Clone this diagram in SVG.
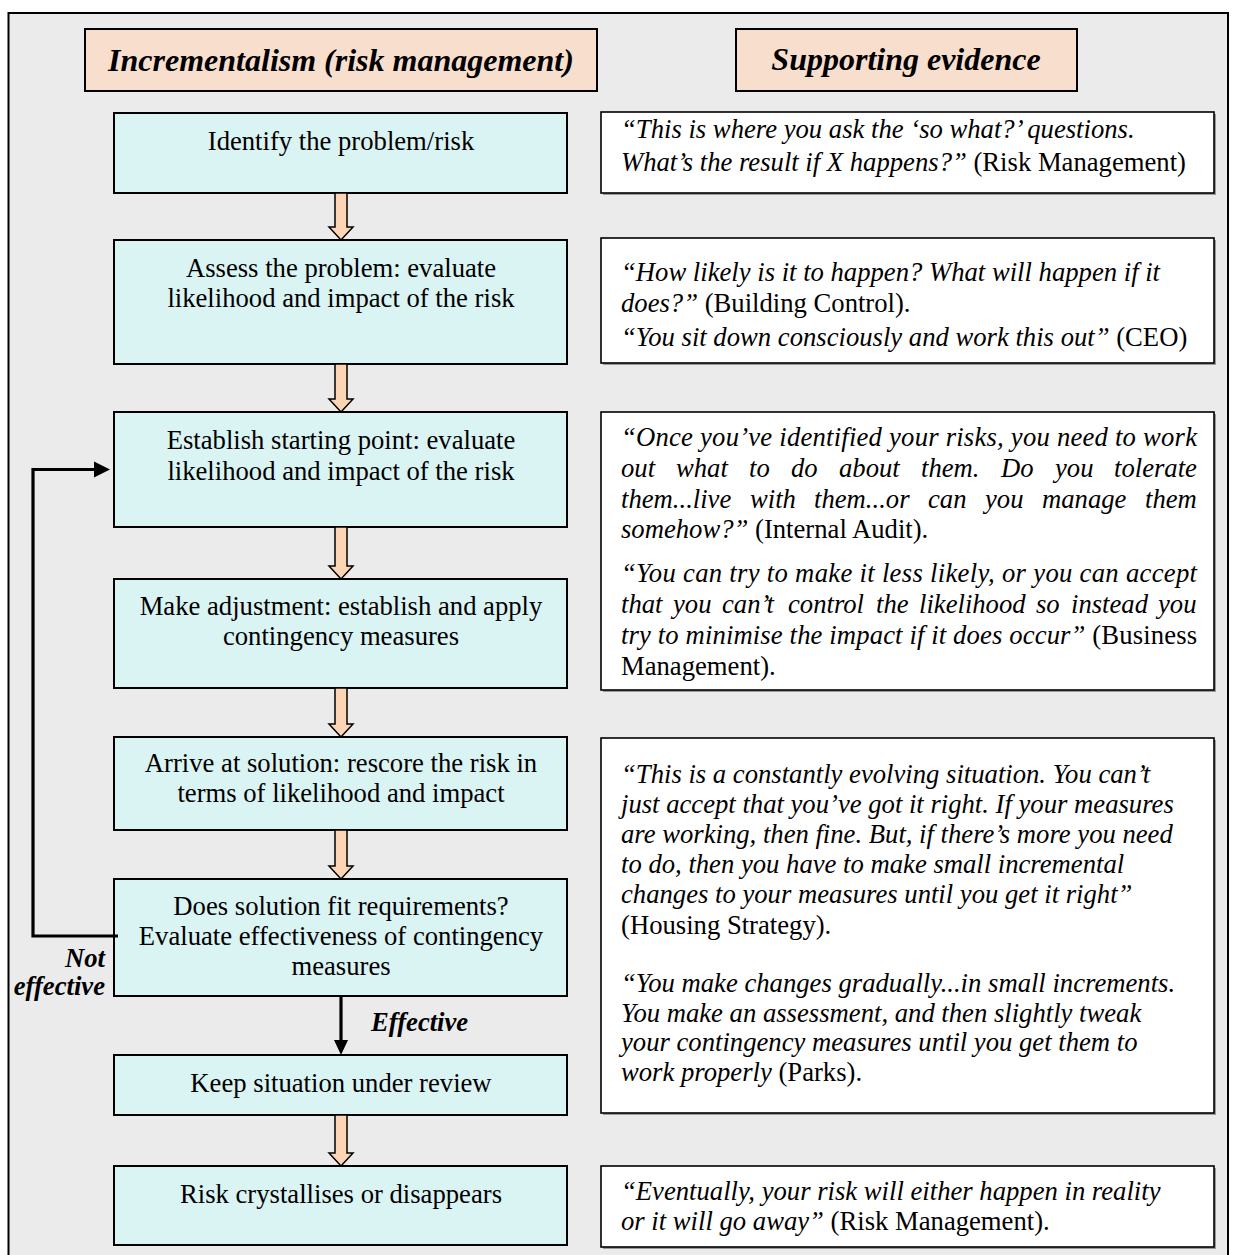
<svg xmlns="http://www.w3.org/2000/svg" width="1233" height="1255" viewBox="0 0 1233 1255">
  <style>
    text { font-family: "Liberation Serif", "Times New Roman", serif; font-size: 26.67px; fill: #000; }
    .frame { fill: #ebebeb; stroke: #000; stroke-width: 2; }
    .hdr { fill: #f8dfcd; stroke: #000; stroke-width: 2; }
    .hdr-t { font-size: 32px; font-weight: bold; font-style: italic; text-anchor: middle; }
    .step { fill: #daf3f3; stroke: #000; stroke-width: 2; }
    .step-t { text-anchor: middle; }
    .quote { fill: #fff; stroke: #000; stroke-width: 1.6; }
    .shadow { fill: #9a9a9a; }
    .i { font-style: italic; }
    .lbl { font-weight: bold; font-style: italic; }
    .flow { fill: #fcd5b4; stroke: #000; stroke-width: 1.5; stroke-linejoin: miter; }
    .link { fill: none; stroke: #000; stroke-width: 3.2; }
    .head { fill: #000; }
  </style>

  <!-- outer panel -->
  <rect class="frame" x="8.5" y="13" width="1219.5" height="1262"/>

  <!-- column headings -->
  <g id="heading-incrementalism">
    <rect class="hdr" x="85" y="29" width="512" height="62"/>
    <text class="hdr-t" x="341" y="71">Incrementalism (risk management)</text>
  </g>
  <g id="heading-evidence">
    <rect class="hdr" x="736" y="29" width="341" height="62"/>
    <text class="hdr-t" x="906" y="70">Supporting evidence</text>
  </g>

  <!-- process steps -->
  <g id="step-identify">
    <rect class="step" x="114" y="113" width="453" height="80"/>
    <text class="step-t" x="341" y="150">Identify the problem/risk</text>
  </g>
  <g id="step-assess">
    <rect class="step" x="114" y="240" width="453" height="124"/>
    <text class="step-t" x="341" y="277">Assess the problem: evaluate</text>
    <text class="step-t" x="341" y="307">likelihood and impact of the risk</text>
  </g>
  <g id="step-establish">
    <rect class="step" x="114" y="412" width="453" height="115"/>
    <text class="step-t" x="341" y="449">Establish starting point: evaluate</text>
    <text class="step-t" x="341" y="480">likelihood and impact of the risk</text>
  </g>
  <g id="step-adjust">
    <rect class="step" x="114" y="579" width="453" height="109"/>
    <text class="step-t" x="341" y="615">Make adjustment: establish and apply</text>
    <text class="step-t" x="341" y="645">contingency measures</text>
  </g>
  <g id="step-solution">
    <rect class="step" x="114" y="737" width="453" height="93"/>
    <text class="step-t" x="341" y="772">Arrive at solution: rescore the risk in</text>
    <text class="step-t" x="341" y="802">terms of likelihood and impact</text>
  </g>
  <g id="step-evaluate">
    <rect class="step" x="114" y="879" width="453" height="117"/>
    <text class="step-t" x="341" y="915">Does solution fit requirements?</text>
    <text class="step-t" x="341" y="945">Evaluate effectiveness of contingency</text>
    <text class="step-t" x="341" y="975">measures</text>
  </g>
  <g id="step-review">
    <rect class="step" x="114" y="1055" width="453" height="60"/>
    <text class="step-t" x="341" y="1092">Keep situation under review</text>
  </g>
  <g id="step-outcome">
    <rect class="step" x="114" y="1166" width="453" height="79"/>
    <text class="step-t" x="341" y="1203">Risk crystallises or disappears</text>
  </g>

  <!-- evidence quotes -->
  <g id="quote-identify">
    <rect class="shadow" x="603" y="114" width="613" height="81"/>
    <rect class="quote" x="601" y="112" width="613" height="81"/>
    <text x="621" y="138" class="i">“This is where you ask the ‘so what?’ questions.</text>
    <text x="621" y="171"><tspan class="i">What’s the result if X happens?”</tspan> (Risk Management)</text>
  </g>
  <g id="quote-assess">
    <rect class="shadow" x="603" y="240" width="613" height="125"/>
    <rect class="quote" x="601" y="238" width="613" height="125"/>
    <text x="621" y="281" class="i">“How likely is it to happen? What will happen if it</text>
    <text x="621" y="312"><tspan class="i">does?”</tspan> (Building Control).</text>
    <text x="621" y="346"><tspan class="i">“You sit down consciously and work this out”</tspan> (CEO)</text>
  </g>
  <g id="quote-establish">
    <rect class="shadow" x="603" y="414" width="613" height="278"/>
    <rect class="quote" x="601" y="412" width="613" height="278"/>
    <text x="621" y="446" class="i" textLength="576" lengthAdjust="spacing">“Once you’ve identified your risks, you need to work</text>
    <text y="477" class="i"><tspan x="621">out</tspan><tspan x="676">what</tspan><tspan x="749">to</tspan><tspan x="791">do</tspan><tspan x="839">about</tspan><tspan x="921">them.</tspan><tspan x="1001">Do</tspan><tspan x="1055">you</tspan><tspan x="1114">tolerate</tspan></text>
    <text y="508" class="i"><tspan x="621">them...live</tspan><tspan x="750">with</tspan><tspan x="814">them...or</tspan><tspan x="928">can</tspan><tspan x="985">you</tspan><tspan x="1042">manage</tspan><tspan x="1145">them</tspan></text>
    <text x="621" y="538"><tspan class="i">somehow?”</tspan> (Internal Audit).</text>
    <text x="621" y="582" class="i" textLength="576" lengthAdjust="spacing">“You can try to make it less likely, or you can accept</text>
    <text y="613" class="i"><tspan x="621">that</tspan><tspan x="673">you</tspan><tspan x="722">can’t</tspan><tspan x="788">control</tspan><tspan x="876">the</tspan><tspan x="919">likelihood</tspan><tspan x="1036">so</tspan><tspan x="1071">instead</tspan><tspan x="1158">you</tspan></text>
    <text x="621" y="644" textLength="576" lengthAdjust="spacing"><tspan class="i">try to minimise the impact if it does occur”</tspan> (Business</text>
    <text x="621" y="675">Management).</text>
  </g>
  <g id="quote-review">
    <rect class="shadow" x="603" y="740" width="613" height="375"/>
    <rect class="quote" x="601" y="738" width="613" height="375"/>
    <text x="621" y="783" class="i">“This is a constantly evolving situation. You can’t</text>
    <text x="621" y="813" class="i">just accept that you’ve got it right. If your measures</text>
    <text x="621" y="843" class="i">are working, then fine. But, if there’s more you need</text>
    <text x="621" y="873" class="i">to do, then you have to make small incremental</text>
    <text x="621" y="903" class="i">changes to your measures until you get it right”</text>
    <text x="621" y="934">(Housing Strategy).</text>
    <text x="621" y="992" class="i">“You make changes gradually...in small increments.</text>
    <text x="621" y="1022" class="i">You make an assessment, and then slightly tweak</text>
    <text x="621" y="1051" class="i">your contingency measures until you get them to</text>
    <text x="621" y="1081"><tspan class="i">work properly</tspan> (Parks).</text>
  </g>
  <g id="quote-outcome">
    <rect class="shadow" x="603" y="1168" width="613" height="81"/>
    <rect class="quote" x="601" y="1166" width="613" height="81"/>
    <text x="621" y="1200" class="i">“Eventually, your risk will either happen in reality</text>
    <text x="621" y="1230"><tspan class="i">or it will go away”</tspan> (Risk Management).</text>
  </g>

  <!-- connectors -->
  <g id="connectors">
    <polygon class="flow" points="335,193 347,193 347,227 353,227 341,240 329,227 335,227"/>
    <polygon class="flow" points="335,364 347,364 347,399 353,399 341,412 329,399 335,399"/>
    <polygon class="flow" points="335,527 347,527 347,566 353,566 341,579 329,566 335,566"/>
    <polygon class="flow" points="335,688 347,688 347,724 353,724 341,737 329,724 335,724"/>
    <polygon class="flow" points="335,830 347,830 347,866 353,866 341,879 329,866 335,866"/>
    <polygon class="flow" points="335,1115 347,1115 347,1153 353,1153 341,1166 329,1153 335,1153"/>

    <!-- effective: on to review -->
    <line class="link" x1="341" y1="996" x2="341" y2="1042"/>
    <polygon class="head" points="334,1040 348,1040 341,1055"/>
    <text class="lbl" x="371" y="1031">Effective</text>

    <!-- not effective: back to starting point -->
    <polyline class="link" points="118,936 33,936 33,469.5 96,469.5"/>
    <polygon class="head" points="94,461.5 110,469.5 94,477.5"/>
    <text class="lbl" x="105" y="967" text-anchor="end">Not</text>
    <text class="lbl" x="105" y="995" text-anchor="end">effective</text>
  </g>
</svg>
